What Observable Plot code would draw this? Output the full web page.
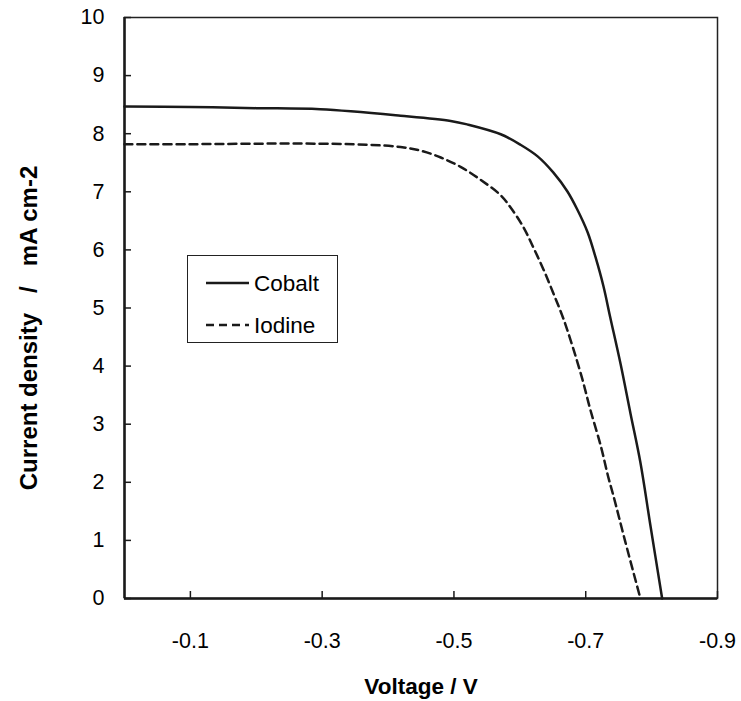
<!DOCTYPE html>
<html>
<head>
<meta charset="utf-8">
<script src="https://cdn.jsdelivr.net/npm/d3@7"></script>
<script src="https://cdn.jsdelivr.net/npm/@observablehq/plot@0.6"></script>
<style>
  html, body { margin: 0; padding: 0; background: #fff; }
  #wrap { position: relative; width: 741px; height: 701px; font-family: "Liberation Sans", Arial, sans-serif; }
  #legend { position: absolute; left: 187px; top: 255px; width: 151px; height: 88px; box-sizing: border-box; border: 1.5px solid #222; background: #fff; }
</style>
</head>
<body>
<div id="wrap"><div id="legend"></div></div>
<script>
// Series data (Voltage in V, current density in mA cm-2)
const cobaltV = [0, -0.1, -0.2, -0.297, -0.419, -0.495, -0.52, -0.571, -0.601, -0.627, -0.651, -0.672, -0.687, -0.703, -0.715, -0.727, -0.737, -0.753, -0.768, -0.783, -0.798, -0.816];
const cobaltJ = [8.47, 8.46, 8.44, 8.42, 8.31, 8.22, 8.16, 7.99, 7.81, 7.61, 7.33, 7.01, 6.70, 6.30, 5.87, 5.37, 4.85, 4.03, 3.18, 2.34, 1.27, 0];
const iodineV = [0, -0.1, -0.267, -0.369, -0.419, -0.449, -0.48, -0.51, -0.54, -0.571, -0.586, -0.605, -0.621, -0.636, -0.651, -0.666, -0.68, -0.695, -0.707, -0.723, -0.734, -0.742, -0.76, -0.783];
const iodineJ = [7.82, 7.82, 7.83, 7.81, 7.77, 7.71, 7.59, 7.43, 7.21, 6.94, 6.73, 6.40, 6.03, 5.66, 5.25, 4.82, 4.34, 3.77, 3.25, 2.62, 2.10, 1.77, 0.98, 0];

const seriesNames = ["Cobalt", "Iodine"];
const xTicks = [-0.1, -0.3, -0.5, -0.7, -0.9];
const xTickLabels = ["-0.1", "-0.3", "-0.5", "-0.7", "-0.9"];
const yTicks = [0, 1, 2, 3, 4, 5, 6, 7, 8, 9, 10];
const yTickLabels = ["0", "1", "2", "3", "4", "5", "6", "7", "8", "9", "10"];
const xTitle = "Voltage / V";
const yTitle = "Current density \u00a0\u00a0/\u00a0\u00a0 mA cm-2";

const cobalt = cobaltV.map((v, i) => ({V: v, J: cobaltJ[i]}));
const iodine = iodineV.map((v, i) => ({V: v, J: iodineJ[i]}));
const xLab = new Map(xTicks.map((t, i) => [t, xTickLabels[i]]));
const yLab = new Map(yTicks.map((t, i) => [t, yTickLabels[i]]));

const chart = Plot.plot({
  width: 741,
  height: 701,
  marginLeft: 124,
  marginRight: 24,
  marginTop: 17,
  marginBottom: 103,
  style: {fontFamily: "'Liberation Sans', Arial, sans-serif", fontSize: "21px", color: "#000", background: "#fff"},
  x: {domain: [0, -0.9]},
  y: {domain: [0, 10]},
  marks: [
    Plot.frame({stroke: "#222", strokeWidth: 1.5}),
    Plot.ruleX([0], {stroke: "#1a1a1a", strokeWidth: 2.5}),
    Plot.ruleY([0], {stroke: "#1a1a1a", strokeWidth: 2.5}),
    Plot.axisX(xTicks, {tickSize: -7, tickPadding: 41, tickFormat: d => xLab.get(d), label: null, fontSize: 21.5, stroke: "#1a1a1a", strokeWidth: 1.5}),
    Plot.axisY(yTicks, {tickSize: -7, tickPadding: 27, tickFormat: d => yLab.get(d), label: null, fontSize: 21.5, stroke: "#1a1a1a", strokeWidth: 1.5}),
    Plot.line(cobalt, {x: "V", y: "J", stroke: "#1a1a1a", strokeWidth: 2.5, curve: "catmull-rom"}),
    Plot.line(iodine, {x: "V", y: "J", stroke: "#1a1a1a", strokeWidth: 2.5, strokeDasharray: "8,5", curve: "catmull-rom"}),
    Plot.text([xTitle], {frameAnchor: "bottom", textAnchor: "middle", lineAnchor: "middle", dy: 88, fontWeight: "bold", fontSize: 22.5}),
    Plot.text([yTitle], {frameAnchor: "left", textAnchor: "middle", lineAnchor: "middle", rotate: -90, dx: -95, dy: 20, fontWeight: "bold", fontSize: 24})
  ]
});
document.getElementById("wrap").prepend(chart);

// Legend
const lg = d3.select("#legend").append("svg").attr("width", 148).attr("height", 85);
const dashes = [null, "8,5"];
seriesNames.forEach((name, i) => {
  const cy = 27 + i * 42;
  lg.append("line").attr("x1", 18).attr("x2", 61).attr("y1", cy).attr("y2", cy)
    .attr("stroke", "#1a1a1a").attr("stroke-width", 2.5).attr("stroke-dasharray", dashes[i]);
  lg.append("text").attr("x", 66).attr("y", cy).attr("dy", "0.35em")
    .attr("font-family", "'Liberation Sans', Arial, sans-serif").attr("font-size", 22.5).text(name);
});
</script>
</body>
</html>
